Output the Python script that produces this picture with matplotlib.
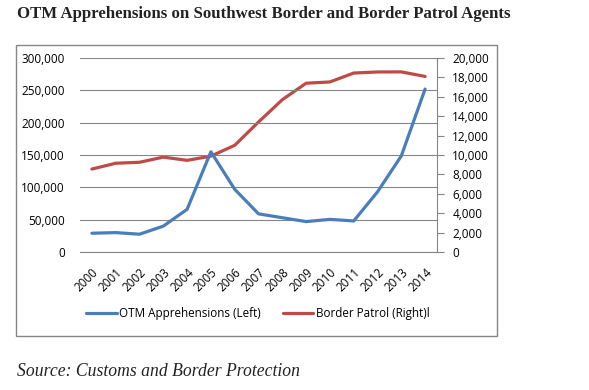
import matplotlib.pyplot as plt
from matplotlib.patches import Rectangle

years = ['2000', '2001', '2002', '2003', '2004', '2005', '2006', '2007',
         '2008', '2009', '2010', '2011', '2012', '2013', '2014']
otm = [29000, 30000, 27500, 40000, 66000, 155000, 97000, 59000,
       53000, 47000, 50500, 48000, 93000, 148500, 252000]
agents = [8550, 9150, 9250, 9780, 9450, 9880, 11000, 13400,
          15700, 17400, 17530, 18450, 18560, 18570, 18100]

left_ticks = [0, 50000, 100000, 150000, 200000, 250000, 300000]
right_ticks = list(range(0, 20001, 2000))

blue = '#4a7ebb'
red = '#be4b48'
gray = '#868686'
tick_font = 'Open Sans'

W, H = 589, 390
fig = plt.figure(figsize=(W / 100, H / 100), dpi=100)

# outer chart frame
fig.patches.append(Rectangle((16 / W, 1 - 336 / H), 481 / W, 291 / H,
                             transform=fig.transFigure, fill=False,
                             edgecolor=gray, linewidth=1))

ax = fig.add_axes([80 / W, 1 - 252 / H, 357 / W, 194 / H])
x = list(range(len(years)))

ax.plot(x, otm, color=blue, lw=2.3, solid_capstyle='round',
        label='OTM Apprehensions (Left)')
ax.set_xlim(-0.5, len(years) - 0.5)
ax.set_ylim(0, 300000)
ax.set_yticks(left_ticks)
ax.set_yticklabels([f'{v:,}' for v in left_ticks], fontsize=8.5, family=tick_font)
ax.tick_params(axis='y', length=0, pad=11)
ax.grid(axis='y', color=gray, lw=0.8)
ax.set_axisbelow(True)
ax.set_xticks(x)
ax.set_xticklabels(years, rotation=45, ha='right', rotation_mode='anchor',
                   fontsize=8.5, family=tick_font)
ax.tick_params(axis='x', length=0, pad=10)
for s in ['top', 'left', 'right']:
    ax.spines[s].set_visible(False)
ax.spines['bottom'].set_color(gray)

ax2 = ax.twinx()
ax2.plot(x, agents, color=red, lw=2.3, solid_capstyle='round',
         label='Border Patrol (Right)l')
ax2.set_ylim(0, 20000)
ax2.set_yticks(right_ticks)
ax2.set_yticklabels([f'{v:,}' for v in right_ticks], fontsize=8.5, family=tick_font)
ax2.tick_params(axis='y', length=5, color=gray, pad=6)
for s in ['top', 'left', 'bottom']:
    ax2.spines[s].set_visible(False)
ax2.spines['right'].set_color(gray)
ax.set_zorder(ax2.get_zorder() + 1)
ax.patch.set_visible(False)

h1, l1 = ax.get_legend_handles_labels()
h2, l2 = ax2.get_legend_handles_labels()
leg = fig.legend(h1 + h2, l1 + l2, loc='center', ncol=2,
                 bbox_to_anchor=(258 / W, 1 - 314 / H), frameon=False,
                 handlelength=2.6, handletextpad=0.2, columnspacing=1.9,
                 prop={'family': tick_font, 'size': 8.4})

fig.text(17 / W, 1 - 14 / H,
         'OTM Apprehensions on Southwest Border and Border Patrol Agents',
         family='Liberation Serif', weight='bold', fontsize=12.1,
         ha='left', va='center', color='#222222')
fig.text(17 / W, 1 - 371 / H, 'Source: Customs and Border Protection',
         family='Liberation Serif', style='italic', fontsize=12.7,
         ha='left', va='center', color='#222222')

fig.savefig('out.png', dpi=100)
